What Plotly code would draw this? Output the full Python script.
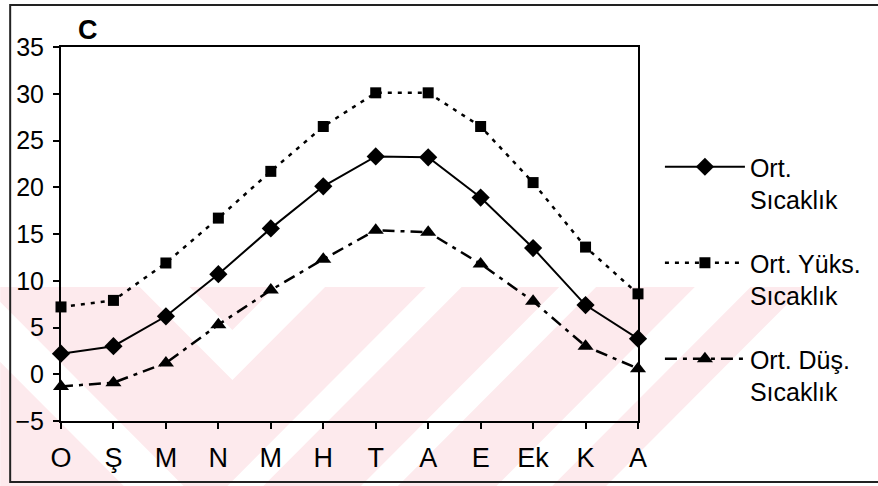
import plotly.graph_objects as go

# Monthly temperature climatology (°C)
months = ["O", "Ş", "M", "N", "M", "H", "T", "A", "E", "Ek", "K", "A"]
ort_sicaklik = [2.2, 3.0, 6.2, 10.7, 15.6, 20.1, 23.3, 23.2, 18.9, 13.5, 7.4, 3.8]
ort_yuks = [7.2, 7.9, 11.9, 16.7, 21.7, 26.5, 30.1, 30.1, 26.5, 20.5, 13.6, 8.6]
ort_dus = [-1.3, -0.9, 1.2, 5.3, 9.0, 12.3, 15.4, 15.2, 11.8, 7.8, 3.0, 0.6]
y_ticks = [-5, 0, 5, 10, 15, 20, 25, 30, 35]
series_names = ["Ort.<br>Sıcaklık", "Ort. Yüks.<br>Sıcaklık", "Ort. Düş.<br>Sıcaklık"]

W, H = 878, 486
ML, MR, MT, MB = 61, 238, 47, 65
PW, PH = W - ML - MR, H - MT - MB
FONT = "Liberation Sans, Arial, sans-serif"

xs = list(range(len(months)))

fig = go.Figure()
fig.add_trace(go.Scatter(
    x=xs, y=ort_sicaklik, name=series_names[0], legendgroup="a",
    mode="lines+markers", cliponaxis=False,
    line=dict(color="black", width=2),
    marker=dict(symbol="diamond", size=14, color="black"),
))
fig.add_trace(go.Scatter(
    x=xs, y=ort_yuks, name=series_names[1], legendgroup="b",
    mode="lines+markers", cliponaxis=False,
    line=dict(color="black", width=2.5, dash="4px,6px"),
    marker=dict(symbol="square", size=11, color="black"),
))
fig.add_trace(go.Scatter(
    x=xs, y=ort_dus, name=series_names[2], legendgroup="c",
    mode="lines+markers", cliponaxis=False,
    line=dict(color="black", width=2.5, dash="12px,6px,4px,6px"),
    marker=dict(symbol="triangle-up", size=14, color="black"),
))


def px(x, y):
    """Pixel position on the page -> paper coordinates."""
    return (x - ML) / PW, (MT + PH - y) / PH


def path(points):
    pts = [px(x, y) for x, y in points]
    return "M " + " L ".join(f"{a:.5f},{b:.5f}" for a, b in pts) + " Z"


# faint pink diagonal-band background pattern in the lower half
Y0, Y1 = 287, 486
shapes = [dict(type="path", xref="paper", yref="paper", layer="below",
               path=path([(0, Y0), (W, Y0), (W, Y1), (0, Y1)]),
               fillcolor="rgb(253,234,237)", line=dict(width=0))]


def back_band(c1, c2):
    return [(Y0 + c1, Y0), (Y0 + c2, Y0), (Y1 + c2, Y1), (Y1 + c1, Y1)]


def fwd_band(u1, u2):
    return [(u1 - Y0, Y0), (u2 - Y0, Y0), (u2 - Y1, Y1), (u1 - Y1, Y1)]


white_polys = [
    back_band(-362, -302),
    [(140, 287), (233, 380), (326, 287), (276, 287), (233, 330), (190, 287)],
    fwd_band(714, 750),
    fwd_band(848, 885),
    fwd_band(984, 1040),
    [(1094 - Y0, Y0), (W + 5, Y0), (W + 5, Y1), (1094 - Y1, Y1)],
]
for poly in white_polys:
    shapes.append(dict(type="path", xref="paper", yref="paper", layer="below",
                       path=path(poly), fillcolor="white", line=dict(width=0)))

# outer chart frame
fx0, fy0 = px(10, 5)
fx1, fy1 = px(W + 10, 482)
shapes.append(dict(type="rect", xref="paper", yref="paper", layer="above",
                   x0=fx0, y0=fy1, x1=fx1, y1=fy0,
                   line=dict(color="#222", width=2), fillcolor="rgba(0,0,0,0)"))

cx, cy = px(88, 30)
lx, ly = px(662, 144)

fig.update_layout(
    width=W, height=H,
    margin=dict(l=ML, r=MR, t=MT, b=MB),
    paper_bgcolor="white",
    plot_bgcolor="rgba(0,0,0,0)",
    font=dict(family=FONT, color="black"),
    shapes=shapes,
    annotations=[dict(text="<b>C</b>", xref="paper", yref="paper", x=cx, y=cy,
                      xanchor="center", yanchor="middle", showarrow=False,
                      font=dict(family=FONT, size=27, color="black"))],
    showlegend=True,
    legend=dict(x=lx, y=ly, xanchor="left", yanchor="top",
                bgcolor="rgba(0,0,0,0)", borderwidth=0,
                font=dict(family=FONT, size=25, color="black"),
                itemwidth=80, valign="top",
                traceorder="grouped", tracegroupgap=28),
    xaxis=dict(range=[0, len(months) - 1], tickmode="array", tickvals=xs,
               ticktext=months, showgrid=False, zeroline=False,
               showline=True, linecolor="black", linewidth=2, mirror=True,
               ticks="outside", ticklen=6, tickwidth=1.5, tickcolor="black",
               tickfont=dict(family=FONT, size=27, color="black"),
               ticklabelstandoff=6),
    yaxis=dict(range=[-5, 35], tickmode="array", tickvals=y_ticks,
               showgrid=False, zeroline=False,
               showline=True, linecolor="black", linewidth=2, mirror=True,
               ticks="outside", ticklen=6, tickwidth=1.5, tickcolor="black",
               tickfont=dict(family=FONT, size=25, color="black"),
               ticklabelstandoff=4),
)

fig.write_html("out.html")
